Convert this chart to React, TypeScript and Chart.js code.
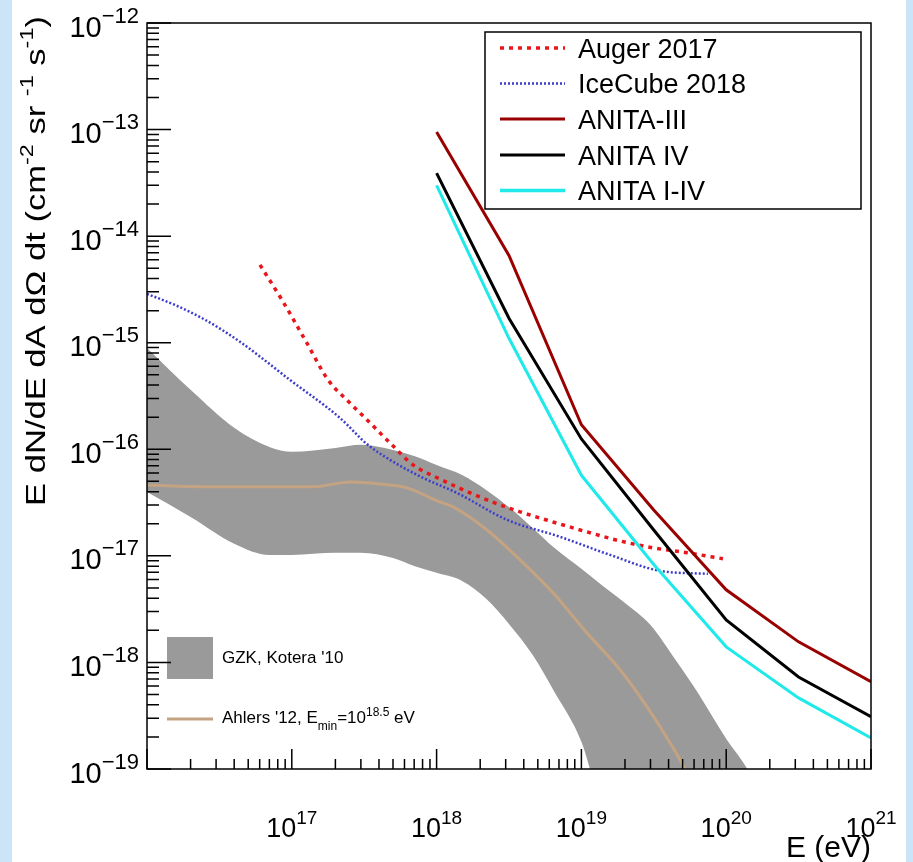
import React, { useEffect, useRef } from "react";
import { Chart, registerables } from "chart.js";

Chart.register(...registerables);

// ---------------- data ----------------
const ANITA_E = [1e18, 3.16e18, 1e19, 3.16e19, 1e20, 3.16e20, 1e21];
const ANITA_III = [9.5e-14, 6.6e-15, 1.7e-16, 2.7e-17, 4.8e-18, 1.56e-18, 6.6e-19];
const ANITA_IV = [3.9e-14, 1.7e-15, 1.25e-16, 1.75e-17, 2.5e-18, 7.3e-19, 3.1e-19];
const ANITA_I_IV = [3.0e-14, 1.1e-15, 5.7e-17, 8.3e-18, 1.4e-18, 4.65e-19, 1.96e-19];

const AUGER_E = [6.03e16, 8.55e16, 1.27e17, 1.78e17, 2.52e17, 3.47e17, 4.92e17, 6.87e17, 1.05e18, 2.23e18, 3.77e18, 6.37e18, 1.09e19, 1.85e19, 3.12e19, 5.36e19, 9.5e19];
const AUGER_F = [5.37e-15, 2.52e-15, 9.95e-16, 4.48e-16, 2.72e-16, 1.77e-16, 1.1e-16, 7.14e-17, 5.27e-17, 3.35e-17, 2.59e-17, 2.08e-17, 1.68e-17, 1.38e-17, 1.19e-17, 1.07e-17, 9.4e-18];

const ICECUBE_E = [1.0e16, 1.56e16, 2.52e16, 4.39e16, 9.7e16, 2.15e17, 3.3e17, 4.76e17, 8.05e17, 1.38e18, 3.06e18, 7.11e18, 1.58e19, 3.49e19, 7.48e19];
const ICECUBE_F = [2.87e-15, 2.26e-15, 1.64e-15, 1.02e-15, 4.48e-16, 1.97e-16, 1.12e-16, 7.96e-17, 5.4e-17, 3.9e-17, 2.18e-17, 1.51e-17, 1.02e-17, 7.23e-18, 6.78e-18];

const GZK_E = [1e16, 2e16, 4e16, 7e16, 1e17, 2e17, 3e17, 5e17, 7e17, 1e18, 1.5e18, 2.2e18, 3.2e18, 4.6e18, 6.5e18, 1e19, 1.15e19, 1.4e19, 2e19, 3e19, 4.5e19, 6.5e19, 1e20, 1.3e20, 1.6e20, 2e20];
const GZK_HIGH = [8.93e-16, 3.61e-16, 1.59e-16, 1.05e-16, 9.46e-17, 1.03e-16, 1.1e-16, 9.87e-17, 8.67e-17, 7.14e-17, 5.75e-17, 4.16e-17, 2.82e-17, 1.83e-17, 1.19e-17, 7.55e-18, 6.49e-18, 5.23e-18, 3.62e-18, 2.25e-18, 1.04e-18, 4.97e-19, 1.92e-19, 1.17e-19, 7.43e-20, 4.61e-20];
const GZK_LOW = [3.98e-17, 2.32e-17, 1.3e-17, 1.02e-17, 1.02e-17, 1.07e-17, 1.07e-17, 9.57e-18, 8.05e-18, 6.93e-18, 5.82e-18, 3.95e-18, 2.25e-18, 1.18e-18, 5.3e-19, 1.8e-19, 9.81e-20, 3.33e-20, 1e-21, 1e-21, 1e-21, 1e-21, 1e-21, 1e-21, 1e-21, 1e-21];

const AHLERS_E = [1e16, 2.59e16, 7.41e16, 1.4e17, 2.52e17, 4.76e17, 6.25e17, 1.05e18, 1.3e18, 2.23e18, 3.77e18, 6.37e18, 1.09e19, 1.85e19, 2.84e19, 4.09e19, 5.19e19, 6.1e19];
const AHLERS_F = [4.63e-17, 4.44e-17, 4.44e-17, 4.44e-17, 4.94e-17, 4.63e-17, 4.35e-17, 3.21e-17, 2.88e-17, 1.75e-17, 9.17e-18, 4.5e-18, 1.9e-18, 8.53e-19, 3.83e-19, 1.76e-19, 9.8e-20, 5.1e-20];

const X_MIN = 1e16;
const X_MAX = 1e21;
const Y_MIN = 1e-19;
const Y_MAX = 1e-12;
const X_TICK_VALUES = [1e17, 1e18, 1e19, 1e20, 1e21];
const X_TICK_LABELS = ["17", "18", "19", "20", "21"];
const Y_TICK_VALUES = [1e-12, 1e-13, 1e-14, 1e-15, 1e-16, 1e-17, 1e-18, 1e-19];
const Y_TICK_LABELS = ["\u221212", "\u221213", "\u221214", "\u221215", "\u221216", "\u221217", "\u221218", "\u221219"];

const LEGEND_NAMES = ["Auger 2017", "IceCube 2018", "ANITA-III", "ANITA IV", "ANITA I-IV"];

// ---------------- styles ----------------
const FONT = '"Liberation Sans", Arial, Helvetica, sans-serif';
const C_AUGER = "#e8161b";
const C_ICE = "#3d3dcc";
const C_A3 = "#990000";
const C_A4 = "#000000";
const C_A14 = "#1fe9e9";
const C_GZK = "#9a9a9a";
const C_AHL = "#c4a382";

type Run = { t: string; size: number; dy?: number };

function runsWidth(ctx: CanvasRenderingContext2D, runs: Run[]) {
  let w = 0;
  for (const r of runs) {
    ctx.font = `${r.size}px ${FONT}`;
    w += ctx.measureText(r.t).width;
  }
  return w;
}

function drawRuns(ctx: CanvasRenderingContext2D, runs: Run[], x: number, y: number, align: "left" | "right" | "center") {
  const w = runsWidth(ctx, runs);
  let cx = align === "left" ? x : align === "right" ? x - w : x - w / 2;
  ctx.textAlign = "left";
  ctx.textBaseline = "alphabetic";
  for (const r of runs) {
    ctx.font = `${r.size}px ${FONT}`;
    ctx.fillText(r.t, cx, y + (r.dy || 0));
    cx += ctx.measureText(r.t).width;
  }
}

const pts = (xs: number[], ys: number[]) => xs.map((x, i) => ({ x, y: ys[i] }));

const rootStyle = {
  id: "rootStyle",
  beforeDraw(chart: any) {
    const { ctx } = chart;
    ctx.save();
    ctx.fillStyle = "#ffffff";
    ctx.fillRect(12, 0, 894, 862);
    ctx.restore();
  },
  afterDatasetsDraw(chart: any) {
    const { ctx, chartArea: a } = chart;
    const xs = chart.scales.x;
    const ys = chart.scales.y;
    ctx.save();
    ctx.fillStyle = "#000";
    ctx.strokeStyle = "#000";

    // ---- main legend (top right) ----
    const lx0 = 485, ly0 = 32, lx1 = 861, ly1 = 209;
    ctx.fillStyle = "#fff";
    ctx.fillRect(lx0, ly0, lx1 - lx0, ly1 - ly0);
    ctx.lineWidth = 1.5;
    ctx.strokeStyle = "#000";
    ctx.strokeRect(lx0, ly0, lx1 - lx0, ly1 - ly0);
    const rowY = [48, 83.5, 119, 155, 190.5];
    const sty = [
      { c: C_AUGER, w: 3.5, d: [4, 5] },
      { c: C_ICE, w: 2.5, d: [2, 2] },
      { c: C_A3, w: 3, d: [] },
      { c: C_A4, w: 3, d: [] },
      { c: C_A14, w: 3.5, d: [] },
    ];
    LEGEND_NAMES.forEach((name, i) => {
      ctx.beginPath();
      ctx.strokeStyle = sty[i].c;
      ctx.lineWidth = sty[i].w;
      ctx.setLineDash(sty[i].d);
      ctx.moveTo(500, rowY[i]);
      ctx.lineTo(565, rowY[i]);
      ctx.stroke();
      ctx.setLineDash([]);
      ctx.fillStyle = "#000";
      drawRuns(ctx, [{ t: name, size: 27 }], 578, rowY[i] + 9.5, "left");
    });

    // ---- lower-left legend ----
    ctx.fillStyle = C_GZK;
    ctx.fillRect(167, 637, 46, 42);
    ctx.fillStyle = "#000";
    drawRuns(ctx, [{ t: "GZK, Kotera '10", size: 17 }], 222, 663, "left");
    ctx.beginPath();
    ctx.strokeStyle = C_AHL;
    ctx.lineWidth = 3;
    ctx.moveTo(167, 719);
    ctx.lineTo(213, 719);
    ctx.stroke();
    drawRuns(
      ctx,
      [
        { t: "Ahlers '12, E", size: 17 },
        { t: "min", size: 12, dy: 7 },
        { t: "=10", size: 17 },
        { t: "18.5", size: 12, dy: -7 },
        { t: " eV", size: 17 },
      ],
      222,
      723,
      "left"
    );

    // ---- frame ----
    ctx.strokeStyle = "#000";
    ctx.lineWidth = 1.5;
    ctx.strokeRect(a.left, a.top, a.right - a.left, a.bottom - a.top);

    // ---- y ticks ----
    ctx.lineWidth = 1.5;
    ctx.beginPath();
    for (let e = -19; e <= -12; e++) {
      for (let k = 1; k <= 9; k++) {
        const v = k * Math.pow(10, e);
        if (v > Y_MAX * 1.0001) break;
        const py = ys.getPixelForValue(v);
        const len = k === 1 ? 24 : 12;
        ctx.moveTo(a.left, py);
        ctx.lineTo(a.left + len, py);
      }
    }
    // ---- x ticks ----
    for (let e = 16; e <= 21; e++) {
      for (let k = 1; k <= 9; k++) {
        const v = k * Math.pow(10, e);
        if (v > X_MAX * 1.0001) break;
        const px = xs.getPixelForValue(v);
        const len = k === 1 ? 20 : 10;
        ctx.moveTo(px, a.bottom);
        ctx.lineTo(px, a.bottom - len);
      }
    }
    ctx.stroke();

    // ---- tick labels ----
    ctx.fillStyle = "#000";
    Y_TICK_VALUES.forEach((v, i) => {
      const py = ys.getPixelForValue(v);
      drawRuns(ctx, [{ t: "10", size: 29 }, { t: Y_TICK_LABELS[i], size: 22, dy: -14 }], 139, py + 13.5, "right");
    });
    X_TICK_VALUES.forEach((v, i) => {
      const px = xs.getPixelForValue(v);
      drawRuns(ctx, [{ t: "10", size: 27 }, { t: X_TICK_LABELS[i], size: 19, dy: -13 }], px, 837, "center");
    });

    // ---- axis titles ----
    drawRuns(ctx, [{ t: "E (eV)", size: 30 }], a.right, 857, "right");

    const title: Run[] = [
      { t: "E dN/dE dA d\u03A9 dt (cm", size: 28 },
      { t: "-2", size: 19, dy: -12 },
      { t: " sr ", size: 28 },
      { t: "-1", size: 19, dy: -12 },
      { t: " s", size: 28 },
      { t: "-1", size: 19, dy: -12 },
      { t: ")", size: 28 },
    ];
    const tw = runsWidth(ctx, title);
    ctx.save();
    ctx.translate(45, 16);
    ctx.rotate(-Math.PI / 2);
    ctx.scale(490 / tw, 1);
    drawRuns(ctx, title, 0, 0, "right");
    ctx.restore();

    ctx.restore();
  },
};

export default function App() {
  const ref = useRef<HTMLCanvasElement>(null);
  useEffect(() => {
    const canvas = ref.current;
    if (!canvas) return;
    const common = { pointRadius: 0, clip: 0, fill: false };
    const chart = new Chart(canvas, {
      type: "line",
      data: {
        datasets: [
          {
            label: "GZK high",
            data: pts(GZK_E, GZK_HIGH),
            borderColor: "rgba(0,0,0,0)",
            borderWidth: 0,
            backgroundColor: C_GZK,
            fill: 1,
            pointRadius: 0,
            clip: 0,
            cubicInterpolationMode: "monotone",
            order: 20,
          },
          {
            label: "GZK low",
            data: pts(GZK_E, GZK_LOW),
            borderColor: "rgba(0,0,0,0)",
            borderWidth: 0,
            backgroundColor: C_GZK,
            fill: false,
            pointRadius: 0,
            clip: 0,
            cubicInterpolationMode: "monotone",
            order: 19,
          },
          {
            ...common,
            label: "Ahlers",
            data: pts(AHLERS_E, AHLERS_F),
            borderColor: C_AHL,
            borderWidth: 3,
            cubicInterpolationMode: "monotone",
            order: 10,
          },
          {
            ...common,
            label: "IceCube 2018",
            data: pts(ICECUBE_E, ICECUBE_F),
            borderColor: C_ICE,
            borderWidth: 2.5,
            borderDash: [2, 2],
            cubicInterpolationMode: "monotone",
            order: 6,
          },
          {
            ...common,
            label: "Auger 2017",
            data: pts(AUGER_E, AUGER_F),
            borderColor: C_AUGER,
            borderWidth: 3.5,
            borderDash: [4, 5],
            cubicInterpolationMode: "monotone",
            order: 5,
          },
          {
            ...common,
            label: "ANITA I-IV",
            data: pts(ANITA_E, ANITA_I_IV),
            borderColor: C_A14,
            borderWidth: 3,
            tension: 0,
            order: 3,
          },
          {
            ...common,
            label: "ANITA IV",
            data: pts(ANITA_E, ANITA_IV),
            borderColor: C_A4,
            borderWidth: 3,
            tension: 0,
            order: 2,
          },
          {
            ...common,
            label: "ANITA-III",
            data: pts(ANITA_E, ANITA_III),
            borderColor: C_A3,
            borderWidth: 3,
            tension: 0,
            order: 1,
          },
        ],
      },
      options: {
        animation: false,
        responsive: false,
        devicePixelRatio: 1,
        layout: { padding: { left: 147, right: 42, top: 23, bottom: 93 } },
        scales: {
          x: { type: "logarithmic", min: X_MIN, max: X_MAX, display: false },
          y: { type: "logarithmic", min: Y_MIN, max: Y_MAX, display: false },
        },
        plugins: { legend: { display: false }, tooltip: { enabled: false } },
      },
      plugins: [rootStyle],
    } as any);
    return () => chart.destroy();
  }, []);

  return (
    <div style={{ position: "fixed", left: 0, top: 0, width: 913, height: 862, background: "#cce4f8" }}>
      <canvas ref={ref} width={913} height={862} style={{ display: "block", width: 913, height: 862 }} />
    </div>
  );
}
